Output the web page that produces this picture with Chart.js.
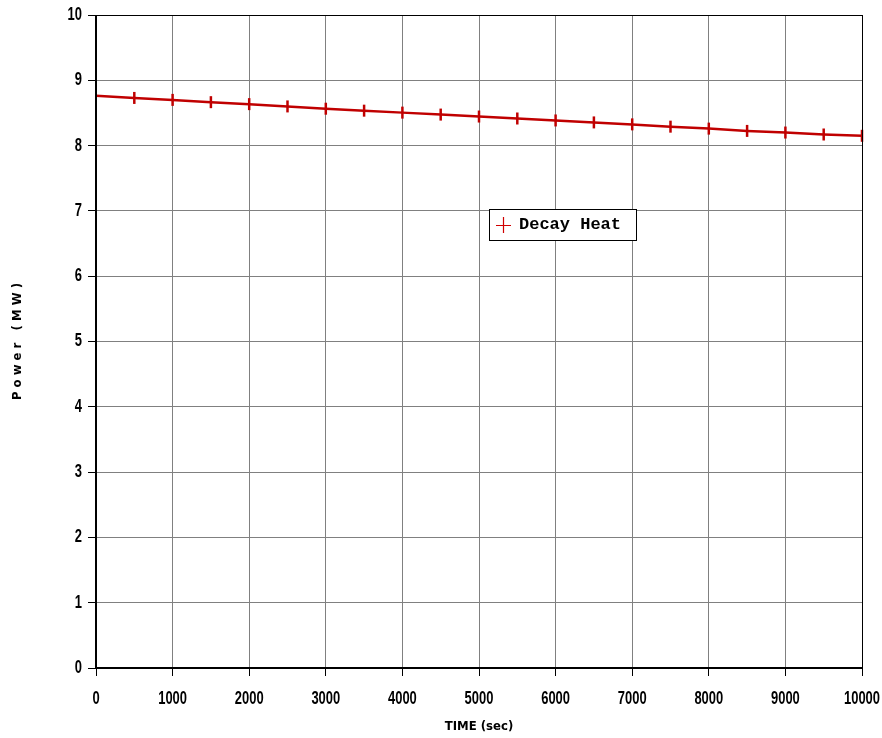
<!DOCTYPE html>
<html>
<head>
<meta charset="utf-8">
<script src="https://cdn.jsdelivr.net/npm/chart.js@4/dist/chart.umd.min.js"></script>
<style>
  html, body { margin: 0; padding: 0; background: #fff; }
  #wrap { width: 882px; height: 738px; }
</style>
</head>
<body>
<div id="wrap"><canvas id="c" width="882" height="738"></canvas></div>
<script>
const timeSec = [0, 500, 1000, 1500, 2000, 2500, 3000, 3500, 4000, 4500, 5000,
  5500, 6000, 6500, 7000, 7500, 8000, 8500, 9000, 9500, 10000];
const decayHeat = [8.765, 8.73, 8.70, 8.665, 8.635, 8.60, 8.565, 8.535, 8.505, 8.475, 8.445,
  8.415, 8.385, 8.355, 8.325, 8.29, 8.26, 8.225, 8.20, 8.17, 8.15];
const seriesName = 'Decay Heat';
const xTitle = 'TIME (sec)';
const yTitle = 'P o w e r   ( M W )';

const titleFont = { family: "'DejaVu Sans Condensed', Arial, sans-serif", size: 13, weight: 'bold' };
const labelFont = "bold 18px 'Liberation Sans', Arial, sans-serif";
const squeeze = 0.72; // the original uses a narrow face

// frame, narrow tick labels and the boxed legend
const framePlugin = {
  id: 'frame',
  afterDraw(chart) {
    const { ctx, chartArea: a } = chart;
    const xs = chart.scales.x, ys = chart.scales.y;
    ctx.save();
    ctx.strokeStyle = '#000';
    ctx.lineWidth = 1;
    ctx.strokeRect(a.left + 0.5, a.top + 0.5, a.right - a.left, a.bottom - a.top);
    ctx.lineWidth = 2;
    ctx.beginPath();
    ctx.moveTo(a.left, a.top);
    ctx.lineTo(a.left, a.bottom);
    ctx.lineTo(a.right, a.bottom);
    ctx.stroke();

    ctx.fillStyle = '#000';
    ctx.font = labelFont;
    ctx.textBaseline = 'middle';
    xs.ticks.forEach(t => {
      ctx.save();
      ctx.translate(xs.getPixelForValue(t.value), a.bottom + 31);
      ctx.scale(squeeze, 1);
      ctx.textAlign = 'center';
      ctx.fillText(String(t.value), 0, 0);
      ctx.restore();
    });
    ys.ticks.forEach(t => {
      ctx.save();
      ctx.translate(a.left - 14, ys.getPixelForValue(t.value));
      ctx.scale(squeeze, 1);
      ctx.textAlign = 'right';
      ctx.fillText(String(t.value), 0, 0);
      ctx.restore();
    });

    // legend box
    const x = Math.round(xs.getPixelForValue(5130));
    const y = Math.round(ys.getPixelForValue(7.03));
    const w = 147, h = 31;
    ctx.fillStyle = '#fff';
    ctx.fillRect(x, y, w, h);
    ctx.lineWidth = 1;
    ctx.strokeStyle = '#000';
    ctx.strokeRect(x + 0.5, y + 0.5, w, h);
    ctx.strokeStyle = '#d00000';
    ctx.lineWidth = 1.2;
    ctx.beginPath();
    ctx.moveTo(x + 14.5, y + 8); ctx.lineTo(x + 14.5, y + 24);
    ctx.moveTo(x + 7, y + 16.5); ctx.lineTo(x + 22, y + 16.5);
    ctx.stroke();
    ctx.fillStyle = '#000';
    ctx.font = "bold 17px 'Liberation Mono', 'Courier New', monospace";
    ctx.textAlign = 'left';
    ctx.fillText(seriesName, x + 30, y + 16);
    ctx.restore();
  }
};

new Chart(document.getElementById('c'), {
  type: 'line',
  data: {
    labels: timeSec,
    datasets: [{
      label: seriesName,
      data: timeSec.map((t, i) => ({ x: t, y: decayHeat[i] })),
      borderColor: '#c00000',
      backgroundColor: '#c00000',
      borderWidth: 2.5,
      pointStyle: 'line',
      pointRotation: 90,
      pointRadius: timeSec.map(t => t === 0 ? 0 : 6),
      pointBorderWidth: 2.5,
      pointBorderColor: '#c00000',
      tension: 0,
      clip: false
    }]
  },
  options: {
    responsive: false,
    animation: false,
    layout: { padding: { top: 15, right: 20, left: 0, bottom: 0 } },
    plugins: {
      legend: { display: false },
      tooltip: { enabled: false }
    },
    scales: {
      x: {
        type: 'linear',
        min: 0, max: 10000,
        afterFit(s) { s.height = 70; s.paddingRight = 0; s.paddingLeft = 0; },
        ticks: { display: false, stepSize: 1000 },
        grid: { color: '#808080', lineWidth: 1, tickLength: 8, tickColor: '#000' },
        border: { display: false },
        title: { display: true, text: xTitle, color: '#000', font: titleFont, padding: { top: 2 } }
      },
      y: {
        min: 0, max: 10,
        afterFit(s) { s.width = 96; s.paddingTop = 0; s.paddingBottom = 0; },
        ticks: { display: false, stepSize: 1 },
        grid: { color: '#808080', lineWidth: 1, tickLength: 8, tickColor: '#000' },
        border: { display: false },
        title: { display: true, text: yTitle, color: '#000', font: titleFont, padding: { top: 10, bottom: 30 } }
      }
    }
  },
  plugins: [framePlugin]
});
</script>
</body>
</html>
